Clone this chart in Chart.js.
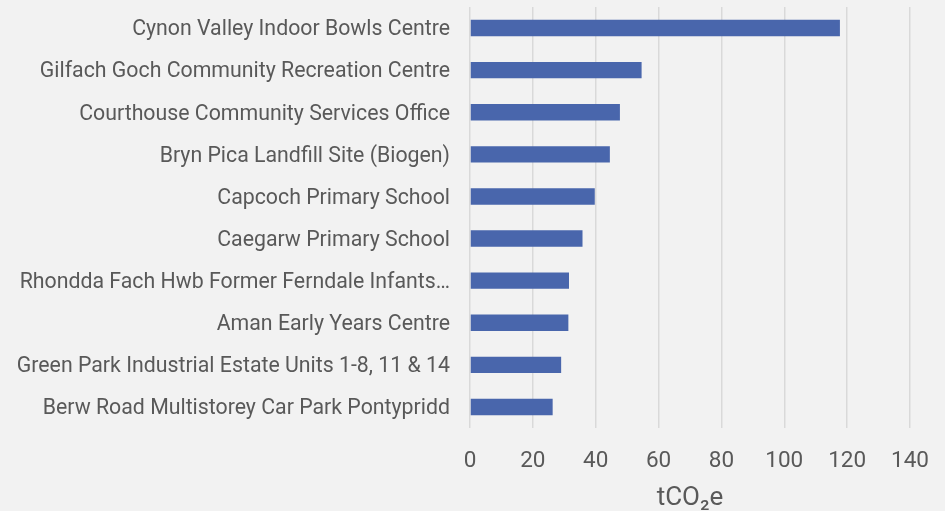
<!DOCTYPE html>
<html>
<head>
<meta charset="utf-8">
<script src="https://cdn.jsdelivr.net/npm/chart.js@4.4.0/dist/chart.umd.min.js"></script>
<style>
    html, body { margin: 0; padding: 0; background: #f2f2f2; }
    #wrap { width: 945px; height: 511px; }
</style>
</head>
<body>
<div id="wrap"><canvas id="chart" width="945" height="511"></canvas></div>
<script>
// Sites, du plus gros émetteur au plus petit
const sites = [
    'Cynon Valley Indoor Bowls Centre',
    'Gilfach Goch Community Recreation Centre',
    'Courthouse Community Services Office',
    'Bryn Pica Landfill Site (Biogen)',
    'Capcoch Primary School',
    'Caegarw Primary School',
    'Rhondda Fach Hwb Former Ferndale Infants…',
    'Aman Early Years Centre',
    'Green Park Industrial Estate Units 1-8, 11 & 14',
    'Berw Road Multistorey Car Park Pontypridd'
];
const emissions = [117.7, 54.6, 47.7, 44.5, 39.7, 35.8, 31.5, 31.3, 29.0, 26.3];
const xTicks = [0, 20, 40, 60, 80, 100, 120, 140];
const xTitle = 'tCO₂e';

const textColor = '#595959';
const ctx = document.getElementById('chart').getContext('2d');

new Chart(ctx, {
    type: 'bar',
    data: {
        labels: sites,
        datasets: [{
            data: emissions,
            backgroundColor: '#4966ac',
            borderWidth: 0,
            barPercentage: 0.39,
            categoryPercentage: 1
        }]
    },
    options: {
        indexAxis: 'y',
        responsive: false,
        animation: false,
        layout: { padding: { top: 7, right: 35, bottom: 0, left: 0 } },
        plugins: {
            legend: { display: false },
            tooltip: { enabled: false }
        },
        scales: {
            x: {
                min: xTicks[0],
                max: xTicks[xTicks.length - 1],
                afterBuildTicks: s => { s.ticks = xTicks.map(v => ({ value: v })); },
                // hauteur fixe, pas de marge latérale due aux libellés
                afterFit: s => {
                    s.height = 83;
                    s.paddingLeft = 0;
                    s.paddingRight = 0;
                },
                grid: { color: '#d9d9d9', lineWidth: 1.5, drawTicks: false },
                border: { display: false },
                ticks: {
                    color: textColor,
                    font: { family: 'Roboto', size: 22.5 },
                    padding: 20,
                    maxRotation: 0
                },
                title: {
                    display: true,
                    text: xTitle,
                    color: textColor,
                    font: { family: 'Roboto', size: 26, lineHeight: 1.0 },
                    padding: 0
                }
            },
            y: {
                // largeur fixe, et pas de marge haute/basse ajoutée par les libellés
                afterFit: s => {
                    s.width = 470;
                    s.paddingTop = 0;
                    s.paddingBottom = 0;
                },
                grid: { display: false, drawTicks: false },
                border: { display: false },
                ticks: {
                    color: textColor,
                    font: { family: 'Roboto', size: 21.3 },
                    padding: 20,
                    labelOffset: 2,
                    autoSkip: false
                }
            }
        }
    },
    plugins: [{
        id: 'fond',
        beforeDraw: chart => {
            const c = chart.ctx;
            c.save();
            c.fillStyle = '#f2f2f2';
            c.fillRect(0, 0, chart.width, chart.height);
            c.restore();
        }
    }]
});
</script>
</body>
</html>
